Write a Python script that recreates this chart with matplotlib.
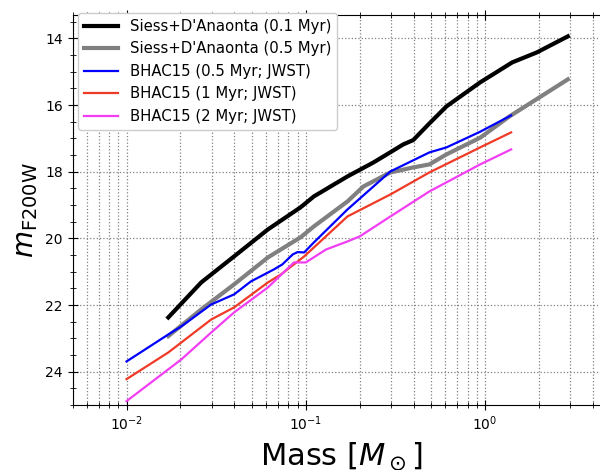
import matplotlib
matplotlib.use("Agg")
import matplotlib.pyplot as plt
from matplotlib.ticker import MultipleLocator

# Siess + D'Antona tracks (mass in Msun, apparent F200W mag)
siess_01_mass = [0.0171, 0.0261, 0.0398, 0.0615, 0.0934, 0.111, 0.171, 0.239, 0.30, 0.35, 0.398, 0.49, 0.61, 0.94, 1.42, 1.95, 2.9]
siess_01_mag = [22.37, 21.32, 20.54, 19.73, 19.07, 18.74, 18.14, 17.72, 17.40, 17.18, 17.05, 16.55, 16.04, 15.32, 14.72, 14.42, 13.94]

siess_05_mass = [0.0171, 0.0261, 0.0398, 0.0615, 0.0934, 0.111, 0.171, 0.21, 0.297, 0.398, 0.49, 0.61, 0.94, 1.37, 2.9]
siess_05_mag = [22.93, 22.13, 21.38, 20.57, 19.97, 19.64, 18.89, 18.44, 18.02, 17.87, 17.78, 17.48, 16.98, 16.34, 15.23]

# BHAC15 isochrones, JWST filters
bhac_05_mass = [0.01, 0.0171, 0.0202, 0.0297, 0.0398, 0.0494, 0.0664, 0.074, 0.0846, 0.09, 0.098, 0.111, 0.171, 0.297, 0.49, 0.61, 0.94, 1.4]
bhac_05_mag = [23.69, 22.88, 22.64, 21.98, 21.68, 21.29, 20.93, 20.78, 20.48, 20.41, 20.42, 20.12, 19.13, 17.99, 17.42, 17.27, 16.80, 16.31]

bhac_1_mass = [0.01, 0.0171, 0.0297, 0.0398, 0.0615, 0.0727, 0.098, 0.171, 0.297, 0.49, 0.94, 1.4]
bhac_1_mag = [24.22, 23.42, 22.43, 22.07, 21.32, 21.08, 20.54, 19.34, 18.68, 18.02, 17.27, 16.82]

bhac_2_mass = [0.01, 0.0202, 0.0297, 0.0398, 0.0615, 0.086, 0.1, 0.13, 0.171, 0.2, 0.297, 0.49, 0.94, 1.4]
bhac_2_mag = [24.88, 23.63, 22.82, 22.22, 21.47, 20.72, 20.72, 20.33, 20.09, 19.94, 19.34, 18.59, 17.78, 17.33]

fig = plt.figure(figsize=(6, 4.7), dpi=100)
ax = fig.add_axes([0.121, 0.138, 0.896, 0.830])

ax.plot(siess_01_mass, siess_01_mag, color="black", lw=3, label="Siess+D'Anaonta (0.1 Myr)")
ax.plot(siess_05_mass, siess_05_mag, color="gray", lw=3, label="Siess+D'Anaonta (0.5 Myr)")
ax.plot(bhac_05_mass, bhac_05_mag, color="blue", lw=1.6, label="BHAC15 (0.5 Myr; JWST)")
ax.plot(bhac_1_mass, bhac_1_mag, color="#f03a26", lw=1.6, label="BHAC15 (1 Myr; JWST)")
ax.plot(bhac_2_mass, bhac_2_mag, color="#f23ef2", lw=1.6, label="BHAC15 (2 Myr; JWST)")

ax.set_xscale("log")
ax.set_xlim(0.005, 5)
ax.set_ylim(25, 13.3)
ax.yaxis.set_major_locator(MultipleLocator(2))
ax.yaxis.set_minor_locator(MultipleLocator(0.5))

ax.grid(True, which="major", axis="y", ls=":", color="gray", lw=0.9)
ax.grid(True, which="both", axis="x", ls=":", color="gray", lw=0.9)
ax.tick_params(which="both", direction="inout", top=True, right=True, labelsize=10)
ax.tick_params(which="major", length=7)
ax.tick_params(which="minor", length=4)

ax.set_xlabel(r"Mass [$M_\odot$]", fontsize=22, labelpad=5)
ax.set_ylabel(r"$m_{\rm F200W}$", fontsize=20)

ax.legend(loc="upper left", bbox_to_anchor=(0.01, 1.005), borderaxespad=0,
          fontsize=10.7, handlelength=2.3, framealpha=1)

fig.savefig("out.png", dpi=100)
